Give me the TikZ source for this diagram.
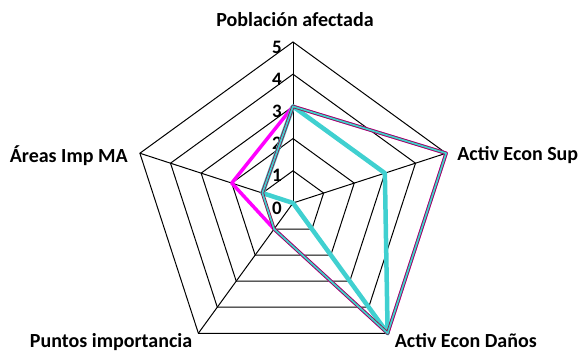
\documentclass[tikz,border=0pt]{standalone}
\usepackage{fontspec}
\setmainfont{Carlito}
\usetikzlibrary{positioning}
\definecolor{turq}{RGB}{64,208,208}
\definecolor{maroon}{RGB}{140,20,70}
\definecolor{fuchsia}{RGB}{255,0,255}
\newcommand{\stepr}{32.2} % one unit of the scale
\tikzset{
        grid line/.style={black, line width=1pt}, % the pentagon web
        axis label/.style={font=\bfseries\fontsize{20}{20}\selectfont, inner sep=0pt}, % names of the axes
        tick label/.style={font=\bfseries\fontsize{19}{19}\selectfont, inner sep=0pt, anchor=east}, % 0 ... 5
        serie mag/.style={fuchsia, line width=3.5pt, line join=round},
        serie cyan/.style={turq, line width=4.5pt, line join=round},
        serie dbl/.style={draw=maroon, double=turq, double distance=1.7pt, line width=0.8pt, line join=round},
    }
\begin{document}
\begin{tikzpicture}[x=1pt, y=1pt]
    \useasboundingbox (0,0) rectangle (584,351);
    \begin{scope}[shift={(293,148)}]
    % web
    \foreach \r in {1,...,5}
        \draw[grid line] (90:\r*\stepr) -- (18:\r*\stepr) -- (-54:\r*\stepr) -- (-126:\r*\stepr) -- (162:\r*\stepr) -- cycle;
    \coordinate (O) at (0,0);
    \coordinate (pob) at (90:5*\stepr);
    \coordinate (sup) at (18:5*\stepr);
    \coordinate (dan) at (-54:5*\stepr);
    \coordinate (pun) at (-126:5*\stepr);
    \coordinate (are) at (162:5*\stepr);
    \foreach \v in {pob, sup, dan, pun, are}
        \draw[grid line] (O) -- (\v);
    % scale
    \foreach \r in {0,...,5}
        \node[tick label, xshift=-11pt, yshift=-5pt] (t\r) at (90:\r*\stepr) {\r};
    % series
    \draw[serie mag] (90:3*\stepr) -- (18:5*\stepr) -- (-54:5*\stepr) -- (-126:1*\stepr) -- (162:2*\stepr) -- cycle;
    \draw[serie cyan] (90:3*\stepr) -- (18:3*\stepr) -- (-54:5*\stepr) -- (O) -- (162:1*\stepr) -- cycle;
    \draw[serie dbl] (90:3*\stepr) -- (18:5*\stepr) -- (-54:5*\stepr) -- (-126:1*\stepr) -- (162:1*\stepr) -- cycle;
    % axis names
    \node[axis label, anchor=base] (lpob) at ([xshift=2pt, yshift=15pt]pob) {Población afectada};
    \node[axis label, anchor=base west] (lsup) at ([xshift=11pt, yshift=-7pt]sup) {Activ Econ Sup};
    \node[axis label, anchor=base west] (ldan) at ([xshift=7pt, yshift=-14pt]dan) {Activ Econ Daños};
    \node[axis label, anchor=base east] (lpun) at ([xshift=-6pt, yshift=-14pt]pun) {Puntos importancia};
    \node[axis label, anchor=base east] (lare) at ([xshift=-12pt, yshift=-9pt]are) {Áreas Imp MA};
    \end{scope}
\end{tikzpicture}
\end{document}
